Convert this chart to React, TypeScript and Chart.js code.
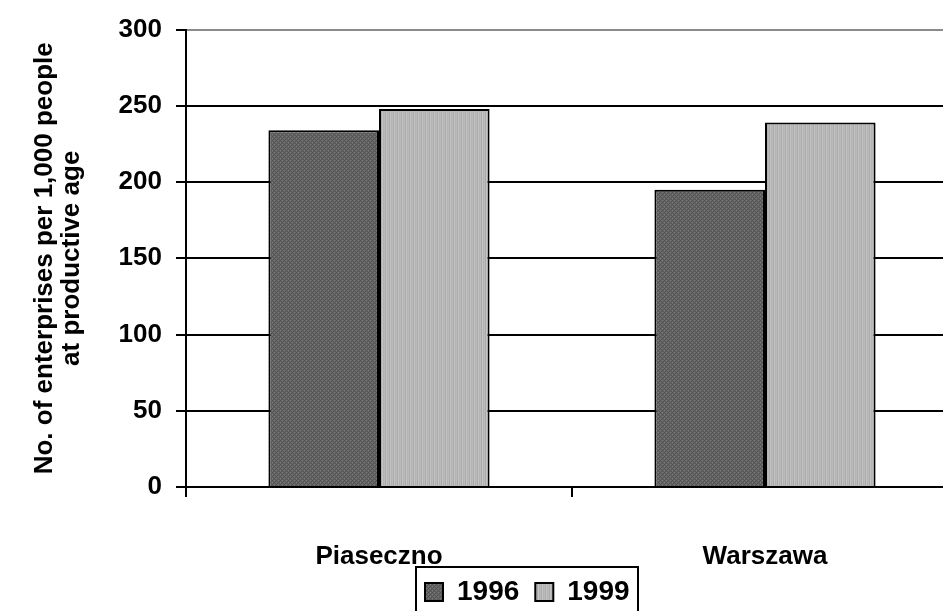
import React, { useEffect, useRef } from 'react';
import { Chart, registerables } from 'chart.js';
Chart.register(...registerables);

const categories = ['Piaseczno', 'Warszawa'];
const seriesLabels = ['1996', '1999'];
const values1996 = [234, 195];
const values1999 = [248, 239];
const yTitleLines = ['No. of enterprises per 1,000 people', 'at productive age'];
const yMin = 0;
const yMax = 300;
const yStep = 50;

const FONT = '"Liberation Sans", Arial, sans-serif';
const CANVAS_W = 975;
const CANVAS_H = 650;

function makePattern(colors: string[][]): CanvasPattern | string {
  const h = colors.length;
  const w = colors[0].length;
  const c = document.createElement('canvas');
  c.width = w;
  c.height = h;
  const g = c.getContext('2d');
  if (!g) return colors[0][0];
  for (let y = 0; y < h; y++) {
    for (let x = 0; x < w; x++) {
      g.fillStyle = colors[y][x];
      g.fillRect(x, y, 1, 1);
    }
  }
  const p = g.createPattern(c, 'repeat');
  return p || colors[0][0];
}

export default function App() {
  const ref = useRef<HTMLCanvasElement | null>(null);

  useEffect(() => {
    if (!ref.current) return;
    const darkPat = makePattern([
      ['#4e4e4e', '#6a6a6a', '#7a7a7a', '#626262'],
      ['#626262', '#585858', '#6a6a6a', '#545454'],
      ['#7a7a7a', '#626262', '#4e4e4e', '#6a6a6a'],
      ['#6a6a6a', '#545454', '#626262', '#585858'],
    ]);
    const lightPat = makePattern([
      ['#bebebe', '#a9a9a9', '#c6c6c6', '#b1b1b1'],
      ['#b8b8b8', '#adadad', '#c2c2c2', '#b5b5b5'],
    ]);

    const legendPlugin = {
      id: 'legendPlace',
      beforeDraw(chart: any) {
        const lg = chart.legend;
        if (!lg) return;
        const pad = 16;
        const w = lg.right - lg.left;
        lg.left = 425 - pad;
        lg.right = lg.left + w;
        const h = lg.bottom - lg.top;
        lg.top = 592 - 14 - pad;
        lg.bottom = lg.top + h;
      },
      afterDraw(chart: any) {
        const ctx = chart.ctx;
        ctx.save();
        ctx.strokeStyle = '#000';
        ctx.lineWidth = 2;
        ctx.strokeRect(416, 567, 222, 60);
        ctx.restore();
      },
    };

    const chart = new Chart(ref.current, {
      type: 'bar',
      data: {
        labels: categories,
        datasets: [
          {
            label: seriesLabels[0],
            data: values1996,
            backgroundColor: darkPat as any,
            borderColor: '#000',
            borderWidth: 2,
            barPercentage: 1,
            categoryPercentage: 0.573,
          },
          {
            label: seriesLabels[1],
            data: values1999,
            backgroundColor: lightPat as any,
            borderColor: '#000',
            borderWidth: 2,
            barPercentage: 1,
            categoryPercentage: 0.573,
          },
        ],
      },
      options: {
        animation: false,
        responsive: false,
        devicePixelRatio: 1,
        layout: { padding: { left: 0, right: 17, top: 27, bottom: 0 } },
        plugins: {
          tooltip: { enabled: false },
          title: { display: false },
          legend: {
            display: true,
            position: 'bottom',
            align: 'start',
            labels: {
              boxWidth: 18,
              boxHeight: 18,
              padding: 16,
              color: '#000',
              font: { family: FONT, size: 28, weight: 'bold' },
            },
          },
        },
        scales: {
          x: {
            type: 'category',
            afterFit: (scale: any) => {
              scale.height = CANVAS_H - 59 - 482;
            },
            border: { display: true, color: '#000', width: 2 },
            grid: {
              offset: true,
              drawOnChartArea: false,
              drawTicks: true,
              tickLength: 10,
              color: '#000',
              lineWidth: 2,
            },
            ticks: {
              color: '#000',
              padding: 44,
              font: { family: FONT, size: 26, weight: 'bold' },
            },
          },
          y: {
            min: yMin,
            max: yMax,
            afterFit: (scale: any) => {
              scale.width = 186;
            },
            border: { display: true, color: '#000', width: 2 },
            grid: {
              color: (ctx: any) => (ctx.tick && ctx.tick.value === yMax ? '#8a8a8a' : '#000'),
              tickColor: '#000',
              lineWidth: 2,
              tickWidth: 2,
              tickLength: 10,
              drawTicks: true,
            },
            ticks: {
              stepSize: yStep,
              color: '#000',
              padding: 14,
              font: { family: FONT, size: 26, weight: 'bold' },
            },
            title: {
              display: true,
              text: yTitleLines,
              color: '#000',
              font: { family: FONT, size: 26, weight: 'bold', lineHeight: 1.05 },
              padding: { top: 31, bottom: 0 },
            },
          },
        },
      },
      plugins: [legendPlugin],
    } as any);

    return () => chart.destroy();
  }, []);

  return (
    <div
      style={{
        position: 'absolute',
        left: 0,
        top: 0,
        width: 943,
        height: 611,
        overflow: 'hidden',
        background: '#fff',
      }}
    >
      <canvas ref={ref} width={CANVAS_W} height={CANVAS_H} style={{ display: 'block' }} />
    </div>
  );
}
